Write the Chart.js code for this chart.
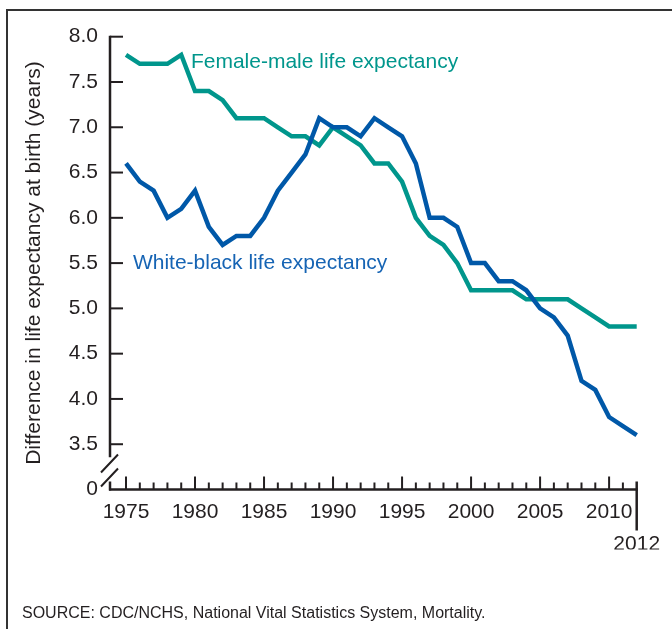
<!DOCTYPE html>
<html>
<head>
<meta charset="utf-8">
<script src="https://cdn.jsdelivr.net/npm/chart.js@4/dist/chart.umd.min.js"></script>
<style>
  html, body { margin: 0; padding: 0; background: #fff; }
  #wrap { position: relative; width: 672px; height: 629px; }
</style>
</head>
<body>
<div id="wrap"><canvas id="c" width="672" height="629"></canvas></div>
<script>
// ---- data ----
const years = [1975,1976,1977,1978,1979,1980,1981,1982,1983,1984,1985,1986,1987,1988,1989,1990,1991,1992,1993,1994,1995,1996,1997,1998,1999,2000,2001,2002,2003,2004,2005,2006,2007,2008,2009,2010,2011,2012];
const femaleMale = [7.8,7.7,7.7,7.7,7.8,7.4,7.4,7.3,7.1,7.1,7.1,7.0,6.9,6.9,6.8,7.0,6.9,6.8,6.6,6.6,6.4,6.0,5.8,5.7,5.5,5.2,5.2,5.2,5.2,5.1,5.1,5.1,5.1,5.0,4.9,4.8,4.8,4.8];
const whiteBlack = [6.6,6.4,6.3,6.0,6.1,6.3,5.9,5.7,5.8,5.8,6.0,6.3,6.5,6.7,7.1,7.0,7.0,6.9,7.1,7.0,6.9,6.6,6.0,6.0,5.9,5.5,5.5,5.3,5.3,5.2,5.0,4.9,4.7,4.2,4.1,3.8,3.7,3.6];
const xTickLabels = [1975,1980,1985,1990,1995,2000,2005,2010,2012];
const yTickValues = [3.0,3.5,4.0,4.5,5.0,5.5,6.0,6.5,7.0,7.5,8.0];
const seriesNames = ['White-black life expectancy','Female-male life expectancy'];
const yTitle = 'Difference in life expectancy at birth (years)';
const sourceNote = 'SOURCE: CDC/NCHS, National Vital Statistics System, Mortality.';

const TEXT = '#231f20';
const TEAL = '#00968c';
const BLUE = '#0058a8';
const FONT = 'Liberation Sans, Arial, Helvetica, sans-serif';

const pts = arr => years.map((yr, i) => ({x: yr, y: arr[i]}));

const decor = {
  id: 'decor',
  beforeDraw(chart) {
    const ctx = chart.ctx;
    ctx.save();
    ctx.strokeStyle = '#333';
    ctx.lineWidth = 2;
    ctx.beginPath();
    ctx.moveTo(7, 629);
    ctx.lineTo(7, 10);
    ctx.lineTo(672, 10);
    ctx.stroke();
    ctx.restore();
  },
  afterDraw(chart) {
    const ctx = chart.ctx;
    const x = chart.scales.x, y = chart.scales.y;
    const ax = chart.chartArea.left;
    const y0 = y.getPixelForValue(3.0);
    ctx.save();
    ctx.strokeStyle = TEXT;
    ctx.lineCap = 'butt';
    // y axis line (upper part)
    ctx.lineWidth = 2.5;
    ctx.beginPath();
    ctx.moveTo(ax, y.getPixelForValue(8.0) - 1);
    ctx.lineTo(ax, y.getPixelForValue(3.5) + 13);
    ctx.stroke();
    // lower short part
    ctx.beginPath();
    ctx.moveTo(ax, y0 - 8);
    ctx.lineTo(ax, y0 + 1);
    ctx.stroke();
    // break slashes
    ctx.lineWidth = 2;
    ctx.beginPath();
    ctx.moveTo(ax - 9, y0 - 17);
    ctx.lineTo(ax + 8, y0 - 35);
    ctx.moveTo(ax - 9, y0 - 3);
    ctx.lineTo(ax + 8, y0 - 21);
    ctx.stroke();
    // y ticks (inward)
    ctx.lineWidth = 2;
    yTickValues.forEach(v => {
      if (v === 3.0) return;
      const py = y.getPixelForValue(v);
      ctx.beginPath();
      ctx.moveTo(ax, py);
      ctx.lineTo(ax + 13, py);
      ctx.stroke();
    });
    // x axis line
    const x2012 = x.getPixelForValue(2012);
    ctx.lineWidth = 2.5;
    ctx.beginPath();
    ctx.moveTo(ax - 1, y0);
    ctx.lineTo(x2012 + 1, y0);
    ctx.stroke();
    // x ticks (inward)
    ctx.lineWidth = 2;
    years.forEach(yr => {
      const px = x.getPixelForValue(yr);
      const len = (yr % 5 === 0) ? 13 : 7;
      ctx.beginPath();
      if (yr === 2012) {
        ctx.lineWidth = 2.5;
        ctx.moveTo(px, y0 - 8);
        ctx.lineTo(px, y0 + 41);
      } else {
        ctx.moveTo(px, y0);
        ctx.lineTo(px, y0 - len);
      }
      ctx.stroke();
    });
    // series labels
    ctx.font = '21px ' + FONT;
    ctx.textBaseline = 'middle';
    ctx.textAlign = 'left';
    ctx.fillStyle = TEAL;
    ctx.fillText(seriesNames[1], x.getPixelForValue(1979.7), y.getPixelForValue(7.72));
    ctx.fillStyle = '#1664b4';
    ctx.fillText(seriesNames[0], x.getPixelForValue(1975.5), y.getPixelForValue(5.5));
    // source
    ctx.font = '16px ' + FONT;
    ctx.textBaseline = 'alphabetic';
    ctx.fillStyle = TEXT;
    ctx.fillText(sourceNote, 22, 618);
    ctx.restore();
  }
};

new Chart(document.getElementById('c'), {
  type: 'line',
  data: {
    datasets: [
      { label: seriesNames[0], data: pts(whiteBlack), borderColor: BLUE, borderWidth: 4.5, pointRadius: 0, tension: 0, fill: false, clip: false },
      { label: seriesNames[1], data: pts(femaleMale), borderColor: TEAL, borderWidth: 4.5, pointRadius: 0, tension: 0, fill: false, clip: false }
    ]
  },
  options: {
    responsive: false,
    animation: false,
    events: [],
    layout: { padding: { left: 22, right: 35.3, top: 36.7, bottom: 79.5 } },
    plugins: { legend: { display: false }, tooltip: { enabled: false } },
    scales: {
      x: {
        type: 'linear',
        min: 1973.84,
        max: 2012,
        grid: { display: false, drawTicks: false },
        border: { display: false },
        afterBuildTicks: s => { s.ticks = xTickLabels.map(v => ({ value: v })); },
        afterFit: s => { s.height = 60; },
        ticks: {
          autoSkip: false, maxRotation: 0, minRotation: 0,
          padding: 6.5,
          color: TEXT,
          font: { size: 21, family: FONT, lineHeight: 1.524 },
          callback: v => v === 2012 ? ['', '2012'] : String(v)
        }
      },
      y: {
        type: 'linear',
        min: 3.0,
        max: 8.0,
        grid: { display: false, drawTicks: false },
        border: { display: false },
        afterBuildTicks: s => { s.ticks = yTickValues.map(v => ({ value: v })); },
        afterFit: s => { s.width = 88; },
        title: { display: true, text: yTitle, color: TEXT, font: { size: 21, family: FONT }, padding: 0 },
        ticks: {
          padding: 12,
          color: TEXT,
          font: { size: 21, family: FONT },
          callback: v => v === 3.0 ? '0' : v.toFixed(1)
        }
      }
    }
  },
  plugins: [decor]
});
</script>
</body>
</html>
